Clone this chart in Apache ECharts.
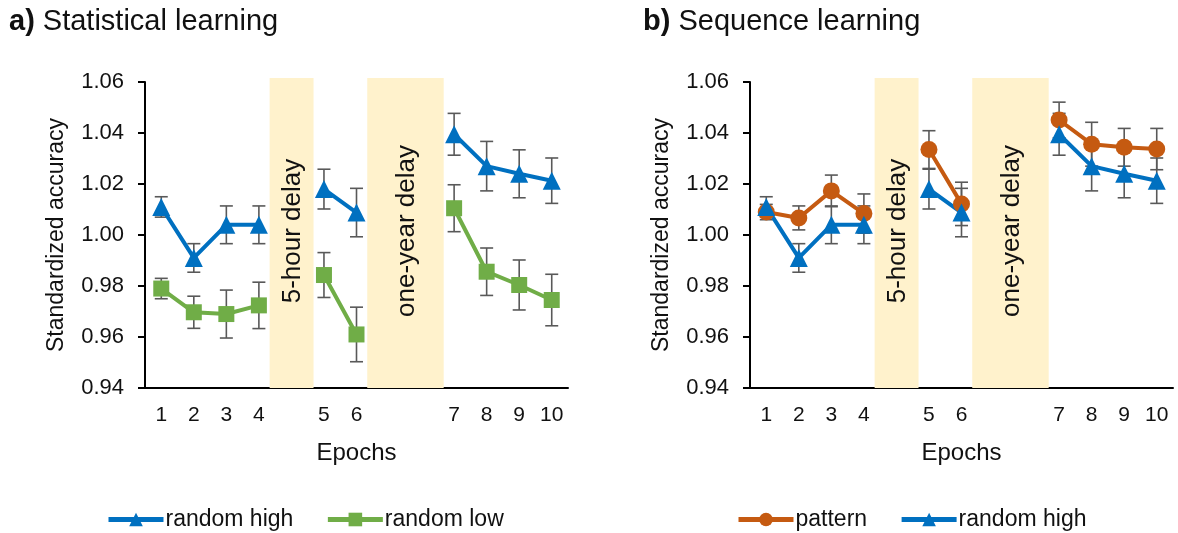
<!DOCTYPE html>
<html><head><meta charset="utf-8">
<script src="https://cdn.jsdelivr.net/npm/echarts@6/dist/echarts.min.js"></script>
<style>html,body{margin:0;padding:0;background:#fff}#c{width:1178px;height:533px}</style>
</head><body><div id="c"></div>
<script>
const epochs = ['1','2','3','4','5','6','7','8','9','10'];
const statRandomHigh    = [1.011, 0.991, 1.004, 1.004, 1.018, 1.0088, 1.0395, 1.027, 1.024, 1.0213];
const statRandomHighErr = [0.004, 0.0056, 0.0074, 0.0074, 0.0078, 0.0095, 0.0082, 0.0097, 0.0094, 0.0089];
const statRandomLow     = [0.979, 0.9697, 0.969, 0.9724, 0.9843, 0.961, 1.0105, 0.9856, 0.9804, 0.9745];
const statRandomLowErr  = [0.004, 0.0063, 0.0094, 0.0091, 0.0088, 0.0107, 0.0092, 0.0093, 0.0098, 0.0101];
const seqPattern        = [1.009, 1.0067, 1.0173, 1.0084, 1.0335, 1.0122, 1.0451, 1.0356, 1.0344, 1.0337];
const seqPatternErr     = [0.003, 0.0047, 0.0062, 0.0077, 0.0074, 0.0085, 0.007, 0.0086, 0.0074, 0.0081];
const seqRandomHigh     = [1.011, 0.991, 1.004, 1.004, 1.018, 1.0088, 1.0395, 1.027, 1.024, 1.0213];
const seqRandomHighErr  = [0.004, 0.0056, 0.0074, 0.0074, 0.0078, 0.0095, 0.0082, 0.0097, 0.0094, 0.0089];
const yTicks = [0.94, 0.96, 0.98, 1.00, 1.02, 1.04, 1.06];
const delays = ['5-hour delay', 'one-year delay'];

// layout (slot positions on the x axis, not data)
const slotPos = [0.5, 1.5, 2.5, 3.5, 5.5, 6.5, 9.5, 10.5, 11.5, 12.5];
const breakAfter = [3, 5];
const bandSpan = [[3.83, 5.18], [6.83, 9.18]];

const FONT = '"Liberation Sans", Arial, sans-serif';
const TXT = '#111';
const BLUE = '#0070C0', GREEN = '#70AD47', ORANGE = '#C55A11';
const yMin = yTicks[0], yMax = yTicks[yTicks.length - 1];

function lineData(vals) {
  const out = [];
  vals.forEach((v, i) => {
    out.push([slotPos[i], v]);
    if (breakAfter.includes(i)) out.push([slotPos[i] + 0.5, '-']);
  });
  return out;
}
function errData(vals, errs) {
  return vals.map((v, i) => [slotPos[i], v - errs[i], v + errs[i]]);
}
function renderBand(params, api) {
  const p0 = api.coord([api.value(0), yMax]);
  const p1 = api.coord([api.value(1), yMin]);
  return { type: 'group', children: [
    { type: 'rect', shape: { x: p0[0], y: p0[1] - 4, width: p1[0] - p0[0], height: p1[1] - p0[1] + 4 },
      style: { fill: '#FFF2CC' } },
    { type: 'text', x: (p0[0] + p1[0]) / 2 + 1, y: (p0[1] + p1[1]) / 2 - 4, rotation: Math.PI / 2,
      style: { text: delays[params.dataIndex], font: '26px ' + FONT, fill: TXT, align: 'center', verticalAlign: 'middle' } }
  ]};
}
function renderErr(params, api) {
  const x = api.value(0);
  const a = api.coord([x, api.value(2)]);
  const b = api.coord([x, api.value(1)]);
  const w = 6.5;
  const st = { stroke: '#595959', lineWidth: 1.6 };
  return { type: 'group', children: [
    { type: 'line', shape: { x1: a[0], y1: a[1], x2: b[0], y2: b[1] }, style: st },
    { type: 'line', shape: { x1: a[0] - w, y1: a[1], x2: a[0] + w, y2: a[1] }, style: st },
    { type: 'line', shape: { x1: b[0] - w, y1: b[1], x2: b[0] + w, y2: b[1] }, style: st }
  ]};
}
function xAxisCfg(gi) {
  return {
    type: 'value', gridIndex: gi, min: 0, max: 13, interval: 0.5,
    name: 'Epochs', nameLocation: 'middle', nameGap: 53,
    nameTextStyle: { fontFamily: FONT, fontSize: 24, color: TXT },
    axisLine: { lineStyle: { color: '#000', width: 2 } },
    axisTick: { show: false }, splitLine: { show: false },
    axisLabel: { interval: 0, margin: 17, fontFamily: FONT, fontSize: 21, color: TXT,
      formatter: v => { const i = slotPos.indexOf(v); return i >= 0 ? epochs[i] : ''; } }
  };
}
function yAxisCfg(gi) {
  return {
    type: 'value', gridIndex: gi, min: yMin, max: yMax, interval: 0.02,
    name: 'Standardized accuracy', nameLocation: 'middle', nameGap: 77,
    nameTextStyle: { fontFamily: FONT, fontSize: 23, color: TXT },
    axisLine: { show: true, lineStyle: { color: '#000', width: 2 } },
    axisTick: { show: true, length: 7, lineStyle: { color: '#000', width: 2 } },
    splitLine: { show: false },
    axisLabel: { margin: 21, fontFamily: FONT, fontSize: 22, color: TXT, formatter: v => v.toFixed(2) }
  };
}
function lineSeries(name, vals, color, symbol, size, gi) {
  return { type: 'line', name, xAxisIndex: gi, yAxisIndex: gi, data: lineData(vals),
    symbol, symbolSize: size, showSymbol: true, connectNulls: false, z: 5,
    itemStyle: { color, opacity: 1 }, lineStyle: { color, width: 4 }, emphasis: { disabled: true } };
}
function errSeries(vals, errs, gi) {
  return { type: 'custom', xAxisIndex: gi, yAxisIndex: gi, renderItem: renderErr, z: 4,
    encode: { x: 0, y: [1, 2] }, data: errData(vals, errs), silent: true };
}
function bandSeries(gi) {
  return { type: 'custom', xAxisIndex: gi, yAxisIndex: gi, renderItem: renderBand, z: 1,
    encode: { x: [0, 1] }, data: bandSpan, silent: true };
}
const legendCommon = { itemWidth: 55, itemHeight: 17, itemGap: 32,
  lineStyle: { width: 5 },
  textStyle: { fontFamily: FONT, fontSize: 23, color: TXT, padding: [0, 0, 0, -3] } };

const option = {
  animation: false,
  title: [
    { text: '{b|a)} Statistical learning', left: 4, top: 2,
      textStyle: { fontFamily: FONT, fontSize: 29, fontWeight: 'normal', color: TXT,
        rich: { b: { fontFamily: FONT, fontSize: 29, fontWeight: 'bold', color: TXT } } } },
    { text: '{b|b)} Sequence learning', left: 638, top: 2,
      textStyle: { fontFamily: FONT, fontSize: 29, fontWeight: 'normal', color: TXT,
        rich: { b: { fontFamily: FONT, fontSize: 29, fontWeight: 'bold', color: TXT } } } }
  ],
  legend: [
    Object.assign({ left: 101, top: 503, data: ['random high', 'random low'] }, legendCommon),
    Object.assign({ left: 731, top: 503, data: ['pattern', 'random high'] }, legendCommon)
  ],
  grid: [
    { left: 145, top: 82, width: 423, height: 306 },
    { left: 750, top: 82, width: 423, height: 306 }
  ],
  xAxis: [xAxisCfg(0), xAxisCfg(1)],
  yAxis: [yAxisCfg(0), yAxisCfg(1)],
  series: [
    bandSeries(0), bandSeries(1),
    errSeries(statRandomHigh, statRandomHighErr, 0),
    errSeries(statRandomLow, statRandomLowErr, 0),
    errSeries(seqPattern, seqPatternErr, 1),
    errSeries(seqRandomHigh, seqRandomHighErr, 1),
    lineSeries('random high', statRandomHigh, BLUE, 'triangle', 18, 0),
    lineSeries('random low', statRandomLow, GREEN, 'rect', 16, 0),
    lineSeries('pattern', seqPattern, ORANGE, 'circle', 17, 1),
    lineSeries('random high', seqRandomHigh, BLUE, 'triangle', 18, 1)
  ]
};
const chart = echarts.init(document.getElementById('c'), null, { renderer: 'canvas' });
chart.setOption(option);
</script></body></html>
